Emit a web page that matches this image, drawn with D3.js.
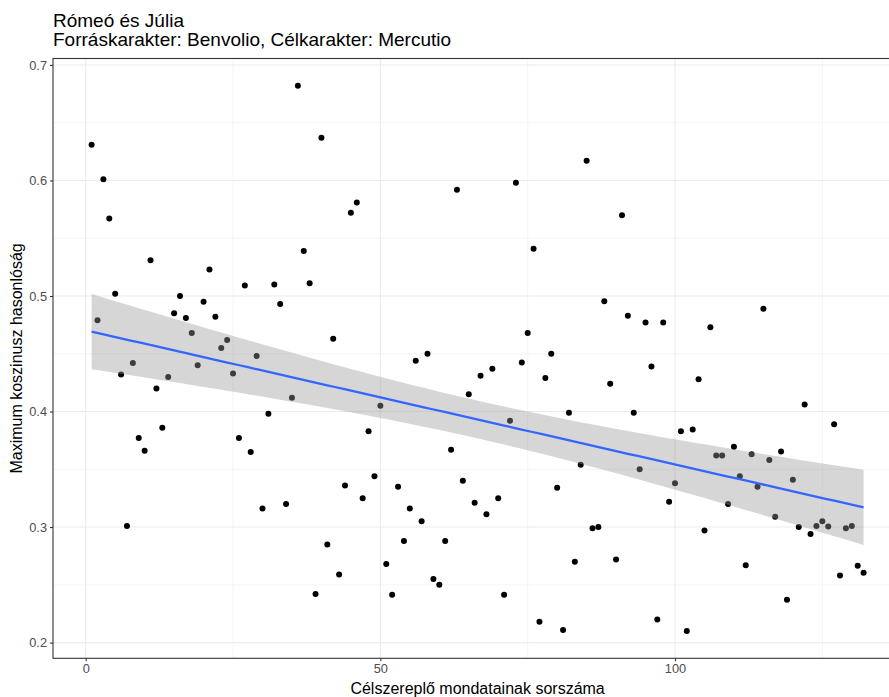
<!DOCTYPE html>
<html>
<head>
<meta charset="utf-8">
<script src="https://cdn.jsdelivr.net/npm/d3@7"></script>
<style>
  body { margin: 0; background: #fff; }
  svg { font-family: "Liberation Sans", Arial, sans-serif; display: block; }
</style>
</head>
<body>
<div id="chart"></div>
<script>
// Chart data: sentence index of the target character and max cosine similarity
const sentenceIdx = d3.range(1, 133);
const maxCosine = [
  0.631, 0.479, 0.601, 0.567, 0.502, 0.432, 0.301, 0.442, 0.377, 0.366,
  0.531, 0.420, 0.386, 0.430, 0.485, 0.500, 0.481, 0.468, 0.440, 0.495,
  0.523, 0.482, 0.455, 0.462, 0.433, 0.377, 0.509, 0.365, 0.448, 0.316,
  0.398, 0.510, 0.493, 0.320, 0.412, 0.682, 0.539, 0.511, 0.242, 0.637,
  0.285, 0.463, 0.259, 0.336, 0.572, 0.581, 0.325, 0.383, 0.344, 0.405,
  0.268, 0.2415, 0.335, 0.288, 0.316, 0.444, 0.305, 0.450, 0.255, 0.250,
  0.288, 0.367, 0.592, 0.340, 0.415, 0.321, 0.431, 0.311, 0.437, 0.325,
  0.2415, 0.392, 0.598, 0.4425, 0.468, 0.541, 0.218, 0.429, 0.450, 0.334,
  0.211, 0.399, 0.270, 0.354, 0.617, 0.299, 0.300, 0.4955, 0.424, 0.272,
  0.570, 0.483, 0.399, 0.350, 0.477, 0.439, 0.220, 0.477, 0.322, 0.338,
  0.383, 0.210, 0.3845, 0.428, 0.297, 0.473, 0.362, 0.362, 0.320, 0.3695,
  0.344, 0.267, 0.363, 0.335, 0.489, 0.358, 0.309, 0.3655, 0.237, 0.341,
  0.300, 0.406, 0.294, 0.301, 0.305, 0.3005, 0.389, 0.258, 0.299, 0.301,
  0.2665, 0.2605
];
const xTicks = [0, 50, 100, 150];
const xMinor = [25, 75, 125];
const yTicks = [0.2, 0.3, 0.4, 0.5, 0.6, 0.7];
const yMinor = [0.25, 0.35, 0.45, 0.55, 0.65];

const titleText = "Rómeó és Júlia";
const subtitleText = "Forráskarakter: Benvolio, Célkarakter: Mercutio";
const xLabel = "Célszereplő mondatainak sorszáma";
const yLabel = "Maximum koszinusz hasonlóság";

const width = 889, height = 697;
const margin = {top: 58.5, left: 53, bottom: 38.7};
const data = sentenceIdx.map((x, i) => ({x: x, y: maxCosine[i]}));

// ggplot-style 5% expansion
function expand(ext) {
  const pad = (ext[1] - ext[0]) * 0.05;
  return [ext[0] - pad, ext[1] + pad];
}
const xDom = expand(d3.extent(data, d => d.x));
const yDom = expand(d3.extent(data, d => d.y));
const pxPerUnit = 5.893;
const panelRight = margin.left + (xDom[1] - xDom[0]) * pxPerUnit;

const x = d3.scaleLinear().domain(xDom).range([margin.left, panelRight]);
const y = d3.scaleLinear().domain(yDom).range([height - margin.bottom, margin.top]);

// Linear model (lm) with 95% confidence band
const n = data.length;
const xbar = d3.mean(data, d => d.x), ybar = d3.mean(data, d => d.y);
const sxx = d3.sum(data, d => (d.x - xbar) ** 2);
const sxy = d3.sum(data, d => (d.x - xbar) * (d.y - ybar));
const slope = sxy / sxx, intercept = ybar - slope * xbar;
const sse = d3.sum(data, d => (d.y - intercept - slope * d.x) ** 2);
const sigma = Math.sqrt(sse / (n - 2));
const tCrit = 1.9784;
const xs = d3.range(80).map(i => 1 + (131 * i) / 79);
const fit = xs.map(v => {
  const yh = intercept + slope * v;
  const se = sigma * Math.sqrt(1 / n + (v - xbar) ** 2 / sxx);
  return {x: v, y: yh, lo: yh - tCrit * se, hi: yh + tCrit * se};
});

const svg = d3.select("#chart").append("svg")
  .attr("width", width).attr("height", height);

svg.append("defs").append("clipPath").attr("id", "panel")
  .append("rect")
  .attr("x", margin.left).attr("y", margin.top)
  .attr("width", panelRight - margin.left)
  .attr("height", height - margin.bottom - margin.top);

const panel = svg.append("g").attr("clip-path", "url(#panel)");

// grid
panel.selectAll(".ymin").data(yMinor).enter().append("line")
  .attr("x1", margin.left).attr("x2", panelRight)
  .attr("y1", d => y(d)).attr("y2", d => y(d))
  .attr("stroke", "#ebebeb").attr("stroke-width", 0.55);
panel.selectAll(".xmin").data(xMinor).enter().append("line")
  .attr("y1", margin.top).attr("y2", height - margin.bottom)
  .attr("x1", d => x(d)).attr("x2", d => x(d))
  .attr("stroke", "#ebebeb").attr("stroke-width", 0.55);
panel.selectAll(".ymaj").data(yTicks).enter().append("line")
  .attr("x1", margin.left).attr("x2", panelRight)
  .attr("y1", d => y(d)).attr("y2", d => y(d))
  .attr("stroke", "#ebebeb").attr("stroke-width", 1.1);
panel.selectAll(".xmaj").data(xTicks).enter().append("line")
  .attr("y1", margin.top).attr("y2", height - margin.bottom)
  .attr("x1", d => x(d)).attr("x2", d => x(d))
  .attr("stroke", "#ebebeb").attr("stroke-width", 1.1);

// points
panel.selectAll("circle").data(data).enter().append("circle")
  .attr("cx", d => x(d.x)).attr("cy", d => y(d.y))
  .attr("r", 3).attr("fill", "#000");

// confidence ribbon
panel.append("path").datum(fit)
  .attr("d", d3.area().x(d => x(d.x)).y0(d => y(d.lo)).y1(d => y(d.hi)))
  .attr("fill", "#999999").attr("fill-opacity", 0.4);

// fit line
panel.append("path").datum(fit)
  .attr("d", d3.line().x(d => x(d.x)).y(d => y(d.y)))
  .attr("fill", "none").attr("stroke", "#3366FF").attr("stroke-width", 2.3);

// border
svg.append("rect")
  .attr("x", margin.left).attr("y", margin.top)
  .attr("width", panelRight - margin.left)
  .attr("height", height - margin.bottom - margin.top)
  .attr("fill", "none").attr("stroke", "#333333").attr("stroke-width", 1.1);

// axes
const xAxis = svg.append("g")
  .attr("transform", `translate(0,${height - margin.bottom})`)
  .call(d3.axisBottom(x).tickValues(xTicks.filter(t => x(t) < width)).tickSize(3).tickPadding(3).tickFormat(d3.format("d")));
const yAxis = svg.append("g")
  .attr("transform", `translate(${margin.left},0)`)
  .call(d3.axisLeft(y).tickValues(yTicks).tickSize(3).tickPadding(3).tickFormat(d3.format(".1f")));
[xAxis, yAxis].forEach(a => {
  a.select(".domain").remove();
  a.selectAll(".tick line").attr("stroke", "#333333").attr("stroke-width", 1.1);
  a.selectAll(".tick text").attr("fill", "#4d4d4d").style("font-size", "12.8px")
    .style("font-family", "'Liberation Sans', Arial, sans-serif");
});

// axis titles
svg.append("text")
  .attr("x", (margin.left + panelRight) / 2).attr("y", 694)
  .attr("text-anchor", "middle").style("font-size", "16px")
  .text(xLabel);
svg.append("text")
  .attr("transform", `translate(22,${(margin.top + height - margin.bottom) / 2}) rotate(-90)`)
  .attr("text-anchor", "middle").style("font-size", "16px")
  .text(yLabel);

// titles
svg.append("text").attr("x", margin.left).attr("y", 27)
  .style("font-size", "19px").text(titleText);
svg.append("text").attr("x", margin.left).attr("y", 46)
  .style("font-size", "19px").text(subtitleText);
</script>
</body>
</html>
